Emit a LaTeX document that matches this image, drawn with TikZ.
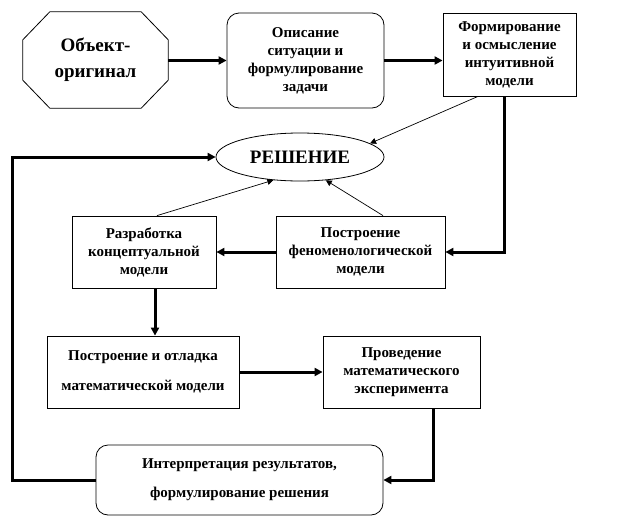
\documentclass[tikz,border=0pt]{standalone}
\usepackage{fontspec}
\setmainfont{Liberation Serif}
\usetikzlibrary{shapes,arrows.meta,positioning,calc}

\tikzset{
  box/.style={draw,line width=0.8pt,align=center,inner sep=2pt,
    font=\bfseries\fontsize{15}{18}\selectfont},
  rbox/.style={box,rounded corners=12pt},
  flow/.style={line width=3pt,-{Triangle[length=8pt,width=8pt]}},
  link/.style={line width=0.7pt,-{Triangle[length=6pt,width=6pt]}},
}

\begin{document}
\begin{tikzpicture}[x=1pt,y=-1pt]
    \useasboundingbox (0,0) rectangle (624,528);

    \node[minimum width=145pt,minimum height=96pt,align=center,
      font=\bfseries\fontsize{19}{26}\selectfont](obj) at (95.5,60) {Объект-\\оригинал};
    \draw[line width=0.8pt]
      ([xshift=27pt]obj.north west) -- ([xshift=-27pt]obj.north east)
      -- ([yshift=-28pt]obj.north east) -- ([yshift=28pt]obj.south east)
      -- ([xshift=-27pt]obj.south east) -- ([xshift=27pt]obj.south west)
      -- ([yshift=28pt]obj.south west) -- ([yshift=-28pt]obj.north west) -- cycle;
    \node[rbox,minimum width=157pt,minimum height=95pt](task) at (305.5,60.5)
      {Описание\\ситуации и\\формулирование\\задачи};
    \node[box,minimum width=133pt,minimum height=83pt](intuit) at (509.5,54.5)
      {Формирование\\и осмысление\\интуитивной\\модели};
    \node[box,ellipse,minimum width=168pt,minimum height=48pt,inner sep=0pt,
      font=\bfseries\fontsize{19}{22}\selectfont](sol) at (300,157) {РЕШЕНИЕ};
    \node[box,minimum width=144pt,minimum height=72pt](concept) at (144,252)
      {Разработка\\концептуальной\\модели};
    \node[box,minimum width=169pt,minimum height=72pt](phenom) at (360.5,252)
      {Построение\\феноменологической\\модели};
    \node[box,minimum width=192pt,minimum height=72pt,
      font=\bfseries\fontsize{15}{30}\selectfont](math) at (143,372)
      {Построение и отладка\\математической модели};
    \node[box,minimum width=157pt,minimum height=72pt](exper) at (401.5,372)
      {Проведение\\математического\\эксперимента};
    \node[rbox,minimum width=287pt,minimum height=70pt,
      font=\bfseries\fontsize{15}{29}\selectfont](interp) at (239.5,480)
      {Интерпретация результатов,\\формулирование решения};
    \coordinate (back) at (12,480);

    \draw[flow] (obj.east |- task.west) -- (task.west);
    \draw[flow] (task.east) -- (task.east -| intuit.west);
    \draw[flow] ([xshift=-5.5pt]intuit.south) |- (phenom.east);
    \draw[flow] (phenom.west) -- (concept.east);
    \draw[flow] ([xshift=11pt]concept.south) -- ([xshift=11pt]concept.south |- math.north);
    \draw[flow] (math.east) -- (exper.west);
    \draw[flow] ([xshift=31.5pt]exper.south) |- (interp.east);
    \draw[flow] (interp.west) -- (back) |- (sol.west);

    \draw[link] ([xshift=-31.5pt]intuit.south) -- (sol.11);
    \draw[link] ([xshift=13pt]concept.north) -- (sol.221);
    \draw[link] ([xshift=22.5pt]phenom.north) -- (sol.318);
\end{tikzpicture}
\end{document}
